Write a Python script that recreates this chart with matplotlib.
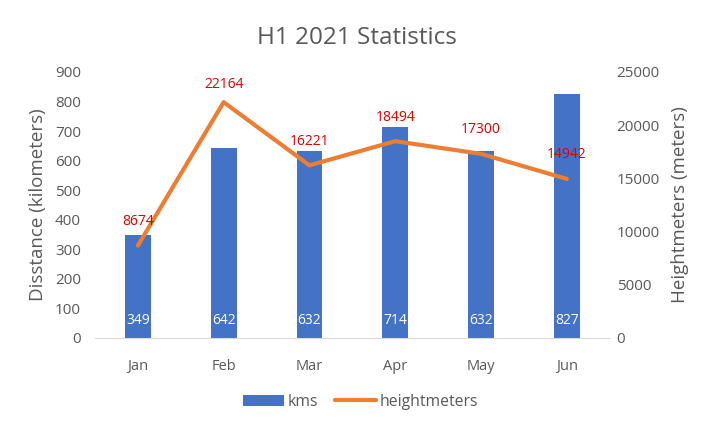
import matplotlib.pyplot as plt

# data
months = ['Jan', 'Feb', 'Mar', 'Apr', 'May', 'Jun']
kms = [349, 642, 632, 714, 632, 827]
heightmeters = [8674, 22164, 16221, 18494, 17300, 14942]

grey = '#595959'
plt.rcParams['font.family'] = ['Open Sans', 'DejaVu Sans']

fig = plt.figure(figsize=(7.14, 4.26), dpi=100)
ax1 = fig.add_axes([0.133, 0.207, 0.721, 0.624])
ax2 = ax1.twinx()

x = range(len(months))
bars = ax1.bar(x, kms, width=0.3, color='#4472C4', label='kms', zorder=2)
line, = ax2.plot(x, heightmeters, color='#ED7D31', linewidth=3, label='heightmeters',
                 zorder=3, solid_capstyle='round', solid_joinstyle='round')

# bar labels, white near the bottom of the bars
for xi, v in zip(x, kms):
    ax1.text(xi, 60, str(v), color='white', ha='center', va='center', fontsize=10)

# line labels, red above points, kept inside the plot area like excel does
plot_h = 0.624 * 426
for xi, v in zip(x, heightmeters):
    off = min(24, (plot_h - 13) - v / 25000 * plot_h)
    ax2.annotate(str(v), (xi, v), xytext=(0, off), textcoords='offset pixels',
                 color='#E00000', ha='center', va='center', fontsize=10)

ax1.set_xlim(-0.5, 5.5)
ax1.set_ylim(0, 900)
ax1.set_yticks(range(0, 901, 100))
ax2.set_ylim(0, 25000)
ax2.set_yticks(range(0, 25001, 5000))
ax1.set_xticks(list(x))
ax1.set_xticklabels(months)

for ax in (ax1, ax2):
    for s in ax.spines.values():
        s.set_visible(False)
    ax.tick_params(length=0, colors=grey, labelsize=11)
ax1.spines['bottom'].set_visible(True)
ax1.spines['bottom'].set_color('#D9D9D9')
ax1.tick_params(axis='x', pad=15, labelsize=10.5)
ax1.tick_params(axis='y', pad=10)
ax2.tick_params(axis='y', pad=5)

ax1.set_ylabel('Disstance (kilometers)', color=grey, fontsize=13.5, labelpad=6)
ax2.set_ylabel('Heightmeters (meters)', color=grey, fontsize=13.5, labelpad=8)

fig.suptitle('H1 2021 Statistics', color=grey, fontsize=17.5, y=0.94)

fig.legend(handles=[bars, line], loc='lower center', ncol=2, frameon=False,
           bbox_to_anchor=(0.505, 0.005), fontsize=11.3, labelcolor=grey,
           handlelength=2.6, handletextpad=0.25, columnspacing=1.1)

fig.savefig('out.png', dpi=100)
